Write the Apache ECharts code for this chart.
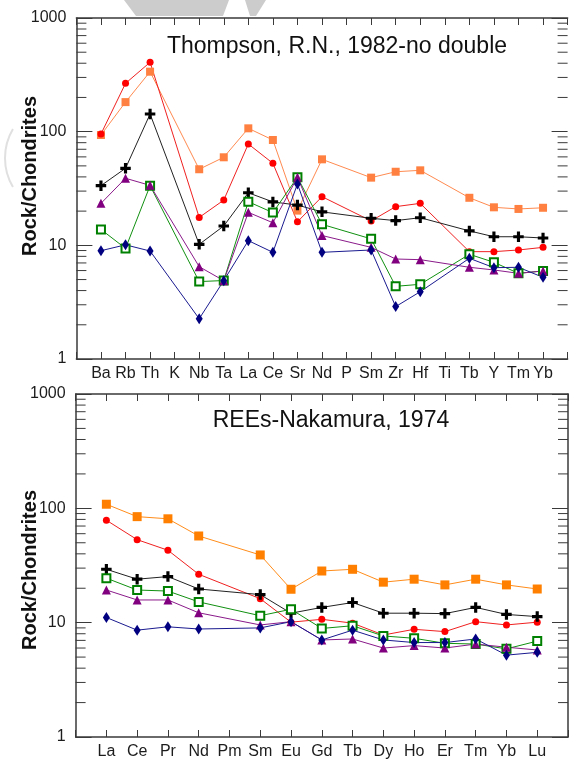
<!DOCTYPE html>
<html>
<head>
<meta charset="utf-8">
<script src="https://cdn.jsdelivr.net/npm/echarts@6/dist/echarts.min.js"></script>
<style>
  html, body { margin: 0; padding: 0; background: #ffffff; }
  #chart { width: 571px; height: 760px; }
</style>
</head>
<body>
<div id="chart"></div>
<script>
// ---- Categories -------------------------------------------------------
const traceElements = ['Ba', 'Rb', 'Th', 'K', 'Nb', 'Ta', 'La', 'Ce', 'Sr', 'Nd', 'P', 'Sm', 'Zr', 'Hf', 'Ti', 'Tb', 'Y', 'Tm', 'Yb'];
const reeElements = ['La', 'Ce', 'Pr', 'Nd', 'Pm', 'Sm', 'Eu', 'Gd', 'Tb', 'Dy', 'Ho', 'Er', 'Tm', 'Yb', 'Lu'];
const yTickLabels = ['1', '10', '100', '1000'];

// ---- Trace elements normalised to chondrite (null = not analysed) ----
const traceOrange = [93.5, 182, 337, null, 46.7, 59.5, 107, 84.5, 20.2, 57.1, null, 39.4, 44.4, 45.7, null, 26.2, 21.6, 20.9, 21.4];
const traceRed    = [95.3, 266, 408, null, 17.6, 25.0, 77.9, 52.7, 16.1, 26.8, null, 16.4, 21.9, 23.4, null, 8.8, 8.8, 9.1, 9.6];
const traceBlack  = [33.5, 47.6, 143, null, 10.2, 14.8, 29.0, 24.1, 22.6, 19.7, null, 17.3, 16.5, 17.5, null, 13.4, 11.9, 11.9, 11.6];
const traceGreen  = [13.8, 9.4, 33.5, null, 4.8, 4.9, 24.2, 19.4, 39.7, 15.3, null, 11.4, 4.36, 4.54, null, 8.34, 7.09, 5.67, 5.95];
const tracePurple = [23.4, 38.9, 33.7, null, 6.49, 4.89, 19.5, 15.8, 39.7, 12.2, null, 9.6, 7.58, 7.48, null, 6.41, 6.07, 5.67, 5.95];
const traceBlue   = [8.97, 10.1, 8.91, null, 2.26, 4.89, 11.0, 8.68, 34.7, 8.68, null, 9.1, 2.89, 3.91, null, 7.69, 6.36, 6.41, 5.23];

// ---- Rare earth elements normalised to chondrite ----------------------
const reeOrange = [108.6, 84.6, 81, 57.3, null, 39.1, 19.6, 28.3, 29.3, 22.6, 24.0, 21.4, 24.0, 21.4, 19.7];
const reeRed    = [78.7, 53.2, 43.0, 26.5, null, 16.2, 10.1, 10.7, 9.9, 7.8, 8.75, 8.35, 10.2, 9.55, 10.1];
const reeBlack  = [29.3, 24.0, 25.3, 19.7, null, 17.6, 12.1, 13.6, 15.0, 12.1, 12.1, 12.0, 13.6, 11.8, 11.3];
const reeGreen  = [24.5, 19.3, 18.9, 15.2, null, 11.5, 13.1, 8.9, 9.4, 7.65, 7.3, 6.6, 6.5, 5.9, 6.9];
const reePurple = [19.3, 15.8, 15.8, 12.2, null, 9.55, 10.2, 7.06, 7.2, 6.0, 6.3, 6.0, 6.5, 6.1, 5.77];
const reeBlue   = [11.1, 8.6, 9.2, 8.8, null, 9.0, 10.2, 7.06, 8.6, 7.06, 6.7, 6.7, 7.2, 5.2, 5.5];

// ---- Styling ------------------------------------------------------------
const axisColor = '#3a3a3a';
const textColor = '#1c1c1c';
const crossPath = 'path://M3.5,0H6.5V3.5H10V6.5H6.5V10H3.5V6.5H0V3.5H3.5Z';

const sampleStyles = {
  orangeTop: { color: '#ff8040', line: '#ff8a50', symbol: 'rect', size: 8 },
  orangeRee: { color: '#ff8000', line: '#ff8c1a', symbol: 'rect', size: 9 },
  red:    { color: '#ff0000', line: '#f02020', symbol: 'circle', size: 7 },
  black:  { color: '#000000', line: '#222222', symbol: crossPath, size: 10.5 },
  green:  { color: '#008000', line: '#109010', symbol: 'emptyRect', size: 8 },
  purple: { color: '#800080', line: '#8a1a8a', symbol: 'triangle', size: 9 },
  blue:   { color: '#000080', line: '#1a1a90', symbol: 'diamond', size: [7, 11] }
};

function toPairs(values) {
  const out = [];
  values.forEach((v, i) => { if (v !== null) out.push([i, v]); });
  return out;
}

function lineSeries(values, style, axisIdx) {
  const hollow = style.symbol === 'emptyRect';
  return {
    type: 'line',
    xAxisIndex: axisIdx,
    yAxisIndex: axisIdx,
    data: toPairs(values),
    symbol: style.symbol,
    symbolSize: style.size,
    showAllSymbol: true,
    lineStyle: { color: style.line, width: 1, type: 'solid' },
    itemStyle: hollow
      ? { color: style.color, borderColor: style.color, borderWidth: 1 }
      : { color: style.color, borderWidth: 0 },
    z: 3
  };
}

// Minor log ticks (2..9 in each decade) drawn inward on both sides
const minorTickValues = [];
[1, 10, 100].forEach(d => { for (let k = 2; k <= 9; k++) minorTickValues.push(k * d); });

function minorTickSeries(axisIdx) {
  return {
    type: 'custom',
    xAxisIndex: axisIdx,
    yAxisIndex: axisIdx,
    silent: true,
    z: 1,
    data: minorTickValues.map(v => [0, v]),
    renderItem(params, api) {
      const cs = params.coordSys;
      const y = api.coord([0, api.value(1)])[1];
      const style = { stroke: axisColor, lineWidth: 1 };
      return {
        type: 'group',
        children: [
          { type: 'line', shape: { x1: cs.x, y1: y, x2: cs.x + 10, y2: y }, style },
          { type: 'line', shape: { x1: cs.x + cs.width - 10, y1: y, x2: cs.x + cs.width, y2: y }, style }
        ]
      };
    }
  };
}

function xAxes(cats, maxIdx, gridIdx) {
  const common = {
    type: 'value', gridIndex: gridIdx, min: -1, max: maxIdx, interval: 1,
    splitLine: { show: false },
    axisLine: { onZero: false, lineStyle: { color: axisColor, width: 1.5 } },
    axisTick: { inside: true, length: 7, lineStyle: { color: axisColor, width: 1 } }
  };
  return [
    Object.assign({}, common, {
      position: 'bottom',
      axisLabel: {
        margin: 7, fontSize: 16, color: textColor, fontFamily: 'Liberation Sans, Arial, sans-serif',
        showMinLabel: true, showMaxLabel: true,
        formatter: v => cats[v] || ''
      }
    }),
    Object.assign({}, common, { position: 'top', axisLabel: { show: false } })
  ];
}

function yAxes(gridIdx, showRightLine) {
  const common = {
    type: 'log', logBase: 10, gridIndex: gridIdx, min: 1, max: 1000,
    splitLine: { show: false },
    axisTick: { inside: true, length: 16, lineStyle: { color: axisColor, width: 1 } }
  };
  return [
    Object.assign({}, common, {
      position: 'left',
      axisLine: { show: true, onZero: false, lineStyle: { color: axisColor, width: 1.5 } },
      axisLabel: {
        margin: 10, fontSize: 16, color: textColor, fontFamily: 'Liberation Sans, Arial, sans-serif',
        formatter: v => yTickLabels[Math.round(Math.log10(v))]
      }
    }),
    Object.assign({}, common, {
      position: 'right',
      axisLine: { show: showRightLine, onZero: false, lineStyle: { color: axisColor, width: 1.5 } },
      axisLabel: { show: false }
    })
  ];
}

const chart = echarts.init(document.getElementById('chart'), null, { renderer: 'canvas' });

const topX = xAxes(traceElements, traceElements.length, 0);
const botX = xAxes(reeElements, reeElements.length, 1);
const topY = yAxes(0, false);
const botY = yAxes(1, true);

// axis index pairs: 0 = top grid data axes, 2 = bottom grid data axes
const series = [
  lineSeries(traceOrange, sampleStyles.orangeTop, 0),
  lineSeries(traceRed, sampleStyles.red, 0),
  lineSeries(traceBlack, sampleStyles.black, 0),
  lineSeries(traceGreen, sampleStyles.green, 0),
  lineSeries(tracePurple, sampleStyles.purple, 0),
  lineSeries(traceBlue, sampleStyles.blue, 0),
  minorTickSeries(0),
  lineSeries(reeOrange, sampleStyles.orangeRee, 2),
  lineSeries(reeRed, sampleStyles.red, 2),
  lineSeries(reeBlack, sampleStyles.black, 2),
  lineSeries(reeGreen, sampleStyles.green, 2),
  lineSeries(reePurple, sampleStyles.purple, 2),
  lineSeries(reeBlue, sampleStyles.blue, 2),
  minorTickSeries(2)
];

const titleFont = { fontSize: 23, fontFamily: 'Liberation Sans, Arial, sans-serif', fill: '#111111' };
const yNameFont = { fontSize: 20, fontWeight: 'bold', fontFamily: 'Liberation Sans, Arial, sans-serif', fill: '#111111' };

chart.setOption({
  animation: false,
  backgroundColor: '#ffffff',
  grid: [
    { left: 76.4, top: 18, width: 491.2, height: 341 },
    { left: 75.6, top: 394, width: 497.5, height: 344 }
  ],
  xAxis: [topX[0], topX[1], botX[0], botX[1]],
  yAxis: [topY[0], topY[1], botY[0], botY[1]],
  series,
  graphic: [
    // faint watermark fragments
    { type: 'polygon', silent: true, z: 0, shape: { points: [[124, 0], [229, 0], [223, 16], [136, 16]] }, style: { fill: '#cccccc' } },
    { type: 'polygon', silent: true, z: 0, shape: { points: [[245, 0], [266, 0], [256, 16], [250, 16]] }, style: { fill: '#cccccc' } },
    { type: 'arc', silent: true, z: 0, shape: { cx: 62, cy: 158, r: 57, startAngle: Math.PI * 0.83, endAngle: Math.PI * 1.17 }, style: { stroke: '#e0e0e0', lineWidth: 2, fill: null } },
    // panel titles
    { type: 'text', x: 337, y: 47, style: Object.assign({ text: 'Thompson, R.N., 1982-no double', textAlign: 'center', textVerticalAlign: 'middle' }, titleFont) },
    { type: 'text', x: 331, y: 421, style: Object.assign({ text: 'REEs-Nakamura, 1974', textAlign: 'center', textVerticalAlign: 'middle' }, titleFont) },
    // axis names
    { type: 'text', x: 30, y: 176, rotation: Math.PI / 2, style: Object.assign({ text: 'Rock/Chondrites', textAlign: 'center', textVerticalAlign: 'middle' }, yNameFont) },
    { type: 'text', x: 30, y: 570, rotation: Math.PI / 2, style: Object.assign({ text: 'Rock/Chondrites', textAlign: 'center', textVerticalAlign: 'middle' }, yNameFont) }
  ]
});
</script>
</body>
</html>
